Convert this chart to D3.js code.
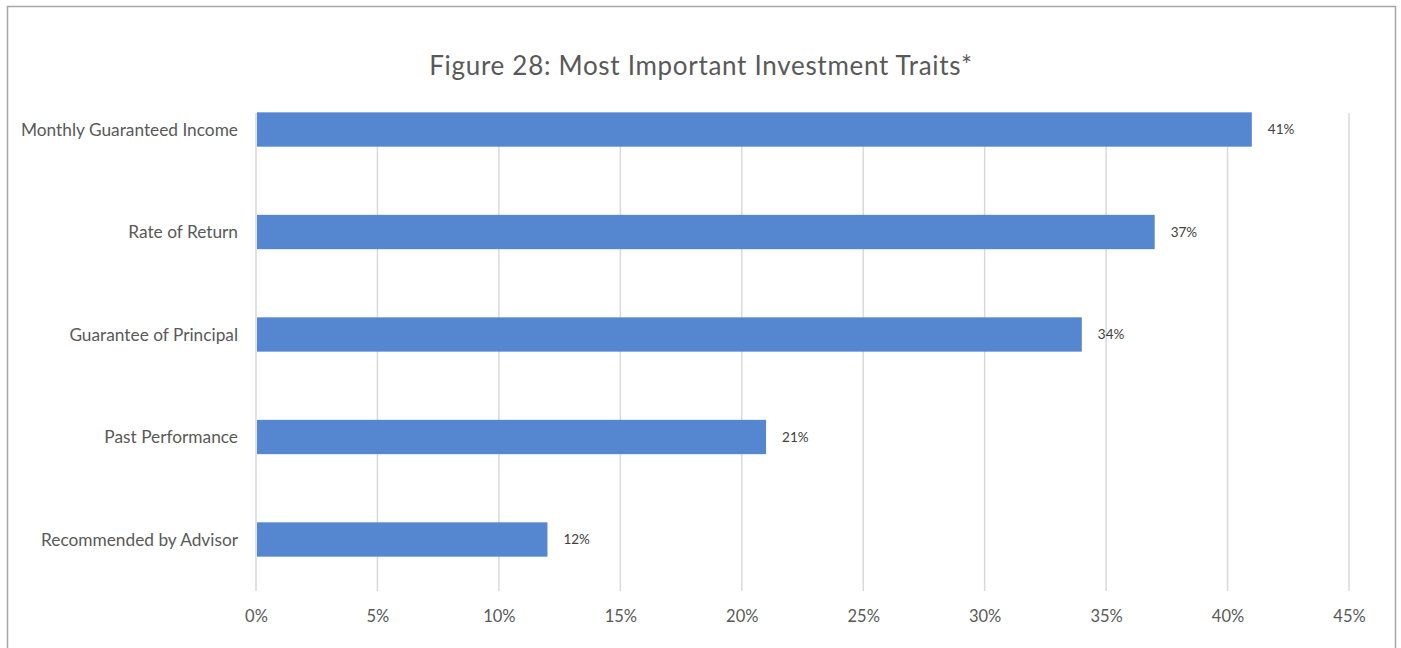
<!DOCTYPE html>
<html lang="en">
  <head>
    <meta charset="utf-8" />
    <style type="text/css">
      body {
        margin: 0;
        background: #fff;
      }
      .cat {
        font-family: Lato, "Open Sans", sans-serif;
        font-size: 17.3px;
        fill: #595959;
      }
      .tick text {
        font-family: Lato, "Open Sans", sans-serif;
        font-size: 16.5px;
        fill: #595959;
      }
      .val {
        font-family: Lato, "Open Sans", sans-serif;
        font-size: 13.5px;
        fill: #404040;
      }
      .title {
        font-family: Lato, "Noto Sans", sans-serif;
        font-size: 26px;
        fill: #595959;
        letter-spacing: 0.7px;
      }
    </style>
  </head>
  <body>
    <svg width="1401" height="648"></svg>

    <script src="https://d3js.org/d3.v7.min.js"></script>
    <script type="text/javascript">
      var categories = [
        "Monthly Guaranteed Income",
        "Rate of Return",
        "Guarantee of Principal",
        "Past Performance",
        "Recommended by Advisor",
      ];
      var values = [41, 37, 34, 21, 12];
      var tickValues = [0, 5, 10, 15, 20, 25, 30, 35, 40, 45];

      var svg = d3.select("svg");

      // outer frame
      svg
        .append("rect")
        .attr("x", 7.5)
        .attr("y", 6.5)
        .attr("width", 1388)
        .attr("height", 660)
        .attr("fill", "none")
        .attr("stroke", "#a6a6a6")
        .attr("stroke-width", 1.5);

      svg
        .append("text")
        .attr("class", "title")
        .attr("x", 701)
        .attr("y", 75)
        .attr("text-anchor", "middle")
        .text("Figure 28: Most Important Investment Traits*");

      var x = d3.scaleLinear().domain([0, 45]).range([256, 1349]);
      var y = d3
        .scaleBand()
        .domain(categories)
        .range([78, 591])
        .paddingInner(0.665)
        .paddingOuter(0.335);

      var gridTop = 113,
        gridBottom = 591;

      // gridlines
      svg
        .selectAll(".grid")
        .data(tickValues)
        .enter()
        .append("line")
        .attr("class", "grid")
        .attr("x1", (d) => x(d))
        .attr("x2", (d) => x(d))
        .attr("y1", gridTop)
        .attr("y2", gridBottom)
        .attr("stroke", "#d9d9d9")
        .attr("stroke-width", 1.5);

      // x axis labels
      var xAxis = d3
        .axisBottom(x)
        .tickValues(tickValues)
        .tickSize(0)
        .tickPadding(0)
        .tickFormat((d) => d + "%");
      var gx = svg
        .append("g")
        .attr("transform", "translate(0," + 622 + ")")
        .call(xAxis);
      gx.select(".domain").remove();
      gx.selectAll(".tick text").attr("dy", 0);

      // bars
      svg
        .selectAll(".bar")
        .data(values)
        .enter()
        .append("rect")
        .attr("class", "bar")
        .attr("x", x(0) + 1)
        .attr("y", (d, i) => y(categories[i]))
        .attr("width", (d) => x(d) - x(0) - 1)
        .attr("height", y.bandwidth())
        .attr("fill", "#5587d0");

      // value labels
      svg
        .selectAll(".val")
        .data(values)
        .enter()
        .append("text")
        .attr("class", "val")
        .attr("x", (d) => x(d) + 16)
        .attr("y", (d, i) => y(categories[i]) + y.bandwidth() / 2)
        .attr("dy", "0.35em")
        .text((d) => d + "%");

      // category labels
      svg
        .selectAll(".cat")
        .data(categories)
        .enter()
        .append("text")
        .attr("class", "cat")
        .attr("x", 238)
        .attr("y", (d) => y(d) + y.bandwidth() / 2)
        .attr("dy", "0.35em")
        .attr("text-anchor", "end")
        .text((d) => d);
    </script>
  </body>
</html>
